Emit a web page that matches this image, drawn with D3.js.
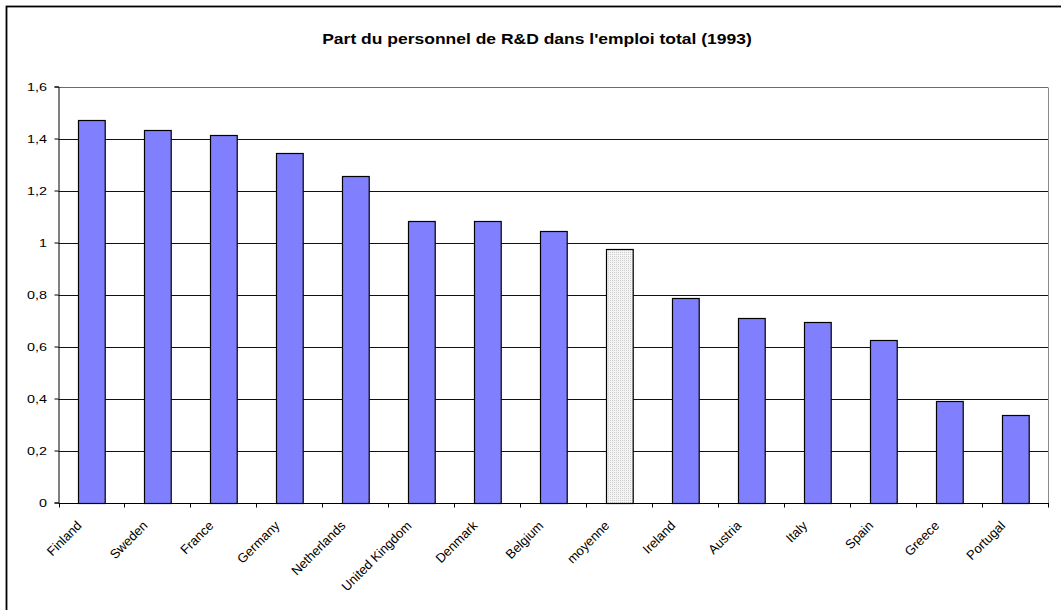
<!DOCTYPE html>
<html>
<head>
<meta charset="utf-8">
<script src="https://cdn.jsdelivr.net/npm/d3@7/dist/d3.min.js"></script>
<style>
  html, body { margin: 0; padding: 0; background: #fff; }
  svg { display: block; font-family: "Liberation Sans", Arial, sans-serif; }
</style>
</head>
<body>
<svg id="chart" width="1061" height="610"></svg>
<script>
// Share of R&D personnel in total employment, 1993
const categories = ["Finland", "Sweden", "France", "Germany", "Netherlands", "United Kingdom",
  "Denmark", "Belgium", "moyenne", "Ireland", "Austria", "Italy", "Spain", "Greece", "Portugal"];
const values = [1.47, 1.433, 1.412, 1.346, 1.254, 1.083, 1.082, 1.045, 0.975, 0.785,
  0.709, 0.694, 0.624, 0.392, 0.335];
const averageLabel = "moyenne";
const yTicks = [0, 0.2, 0.4, 0.6, 0.8, 1, 1.2, 1.4, 1.6];
const title = "Part du personnel de R&D dans l'emploi total (1993)";

const svg = d3.select("#chart");
const plot = { left: 58.5, right: 1048, top: 86.5, bottom: 502.5 };
const wide = 1.25; // horizontal stretch of the title and value labels

const x = d3.scaleBand()
  .domain(categories)
  .range([plot.left, plot.right])
  .paddingInner(0.595)
  .paddingOuter(0.2975);

const y = d3.scaleLinear()
  .domain([0, 1.6])
  .range([plot.bottom, plot.top]);

const fr = d3.formatLocale({ decimal: ",", thousands: " ", grouping: [3], currency: ["", " €"] });
const fmt = v => fr.format("~g")(+v.toFixed(1));

// Dotted fill for the average bar
const defs = svg.append("defs");
const pat = defs.append("pattern")
  .attr("id", "dots").attr("width", 2).attr("height", 2)
  .attr("patternUnits", "userSpaceOnUse");
pat.append("rect").attr("width", 2).attr("height", 2).attr("fill", "#f4f4f4");
pat.append("rect").attr("width", 1).attr("height", 1).attr("fill", "#cfcfcf");

// Outer frame
svg.append("rect")
  .attr("x", 6.5).attr("y", 6.5).attr("width", 1100).attr("height", 700)
  .attr("fill", "#fff").attr("stroke", "#000").attr("stroke-width", 1.8);

// Title
svg.append("g")
  .attr("transform", `translate(537,44) scale(${wide},1)`)
  .append("text")
  .attr("text-anchor", "middle")
  .attr("font-size", 14).attr("font-weight", "bold")
  .attr("fill", "#000")
  .text(title);

// Horizontal gridlines
svg.append("g")
  .selectAll("line")
  .data(yTicks.slice(1))
  .join("line")
  .attr("x1", plot.left).attr("x2", plot.right)
  .attr("y1", d => Math.round(y(d)) + 0.5).attr("y2", d => Math.round(y(d)) + 0.5)
  .attr("stroke", d => d === 1.6 ? "#6a6a6a" : "#111")
  .attr("stroke-width", 1);

// Right edge of plot area
svg.append("line")
  .attr("x1", plot.right + 0.5).attr("x2", plot.right + 0.5)
  .attr("y1", Math.round(y(1.6)) + 0.5).attr("y2", Math.round(y(0)) + 0.5)
  .attr("stroke", "#8a8a8a");

// Bars
svg.append("g")
  .selectAll("rect")
  .data(categories.map((c, i) => ({ c, v: values[i] })))
  .join("rect")
  .attr("x", d => Math.round(x(d.c)) + 0.5)
  .attr("y", d => Math.round(y(d.v)) + 0.5)
  .attr("width", x.bandwidth())
  .attr("height", d => Math.round(y(0)) - Math.round(y(d.v)))
  .attr("fill", d => d.c === averageLabel ? "url(#dots)" : "#8080ff")
  .attr("stroke", "#000")
  .attr("stroke-width", 1.2);

// Y axis
const yAxis = d3.axisLeft(y)
  .tickValues(yTicks)
  .tickSize(4)
  .tickPadding(7)
  .tickFormat(fmt);
const gy = svg.append("g")
  .attr("transform", `translate(${plot.left},0)`)
  .call(yAxis);
gy.select(".domain").attr("stroke", "#000");
gy.selectAll(".tick line").attr("stroke", "#000");
gy.selectAll(".tick text")
  .attr("font-size", 11.5).attr("fill", "#000")
  .attr("font-family", "Liberation Sans, Arial, sans-serif")
  .attr("x", -11.5 / wide)
  .attr("transform", `scale(${wide},1)`);

// X axis baseline and category boundary ticks
const step = x.step();
const x0 = plot.left;
const base = Math.round(y(0)) + 0.5;
svg.append("line")
  .attr("x1", plot.left).attr("x2", plot.right + 1)
  .attr("y1", base).attr("y2", base)
  .attr("stroke", "#000");
svg.append("g")
  .selectAll("line")
  .data(d3.range(categories.length + 1))
  .join("line")
  .attr("x1", i => Math.round(x0 + i * step) + 0.5)
  .attr("x2", i => Math.round(x0 + i * step) + 0.5)
  .attr("y1", base).attr("y2", base + 4)
  .attr("stroke", "#000");

// Rotated category labels
svg.append("g")
  .selectAll("text")
  .data(categories)
  .join("text")
  .attr("transform", d => `translate(${x(d) + x.bandwidth() / 2 - 9},${base + 23}) rotate(-45)`)
  .attr("text-anchor", "end")
  .attr("font-size", 13)
  .attr("fill", "#000")
  .text(d => d);
</script>
</body>
</html>
